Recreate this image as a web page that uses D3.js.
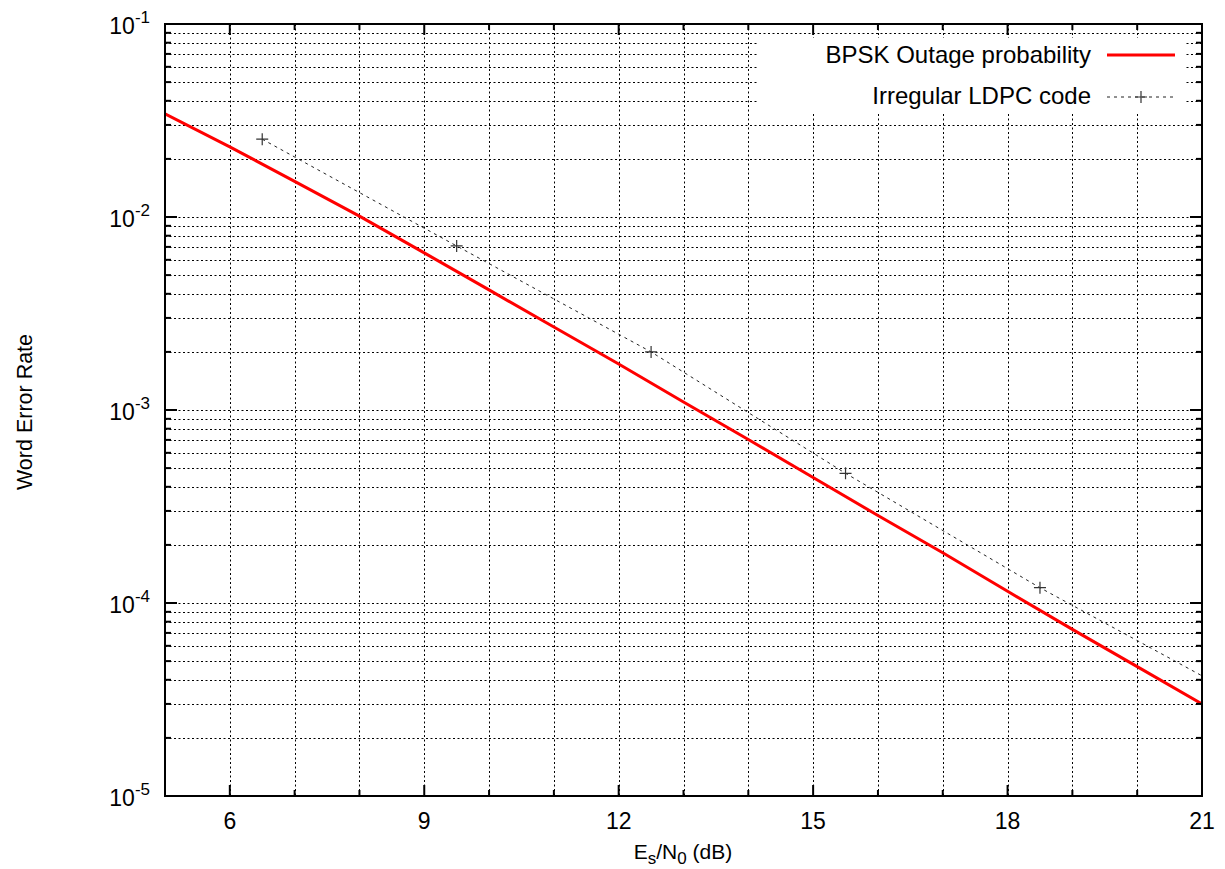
<!DOCTYPE html>
<html>
<head>
<meta charset="utf-8">
<script src="https://cdn.jsdelivr.net/npm/d3@7"></script>
<style>
  html, body { margin: 0; padding: 0; background: #fff; }
  svg { display: block; font-family: "Liberation Sans", Arial, sans-serif; }
</style>
</head>
<body>
<svg id="chart" width="1225" height="869"></svg>
<script>
// Outage probability of BPSK (Es/N0 in dB -> word error rate)
const outageSnr = [5, 6, 7, 8, 9, 10, 11, 12, 13, 14, 15, 16, 17, 18, 19, 20, 21];
const outageWer = [3.42e-2, 2.31e-2, 1.53e-2, 1.01e-2, 6.52e-3, 4.19e-3, 2.69e-3, 1.73e-3,
                   1.10e-3, 7.03e-4, 4.47e-4, 2.84e-4, 1.82e-4, 1.15e-4, 7.3e-5, 4.68e-5, 3.0e-5];

// Simulated irregular LDPC code
const ldpcSnr = [6.5, 9.5, 12.5, 15.5, 18.5, 21.5];
const ldpcWer = [2.53e-2, 7.08e-3, 2.0e-3, 4.7e-4, 1.2e-4, 3.4e-5];

// Axis ticks
const xMajorTicks = [6, 9, 12, 15, 18, 21];
const xMinorTicks = d3.range(5, 22, 1);
const yDecades = [-5, -4, -3, -2, -1];

const seriesNames = ["BPSK Outage probability", "Irregular LDPC code"];

const svg = d3.select("#chart");
const plotLeft = 165, plotTop = 24, plotRight = 1202, plotBottom = 796;

const x = d3.scaleLinear().domain([5, 21]).range([plotLeft, plotRight]);
const y = d3.scaleLog().domain([1e-5, 1e-1]).range([plotBottom, plotTop]);

// minor log positions 2..9 within each decade
const yMinor = [];
yDecades.slice(0, -1).forEach(e => {
  for (let m = 2; m <= 9; m++) yMinor.push(m * Math.pow(10, e));
});
const yMajor = yDecades.map(e => Math.pow(10, e));

// grid
const grid = svg.append("g")
  .attr("stroke", "#000").attr("stroke-width", 1).attr("stroke-dasharray", "2,2.5");
grid.selectAll("line.gx").data(xMinorTicks.filter(v => v > 5 && v < 21)).join("line")
  .attr("class", "gx")
  .attr("x1", d => Math.round(x(d)) + 0.5).attr("x2", d => Math.round(x(d)) + 0.5)
  .attr("y1", plotTop).attr("y2", plotBottom);
grid.selectAll("line.gy").data(yMinor.concat(yMajor.filter(v => v > 1e-5 && v < 1e-1))).join("line")
  .attr("class", "gy")
  .attr("y1", d => Math.round(y(d)) + 0.5).attr("y2", d => Math.round(y(d)) + 0.5)
  .attr("x1", plotLeft).attr("x2", plotRight);

// legend background hides the grid behind it
svg.append("rect").attr("x", 758).attr("y", 38).attr("width", 426).attr("height", 75)
  .attr("fill", "#fff");

// clip for curves
svg.append("clipPath").attr("id", "plotClip").append("rect")
  .attr("x", plotLeft).attr("y", plotTop).attr("width", plotRight - plotLeft).attr("height", plotBottom - plotTop);

const line = d3.line().x(d => x(d[0])).y(d => y(d[1]));

svg.append("path")
  .datum(ldpcSnr.map((s, i) => [s, ldpcWer[i]]))
  .attr("clip-path", "url(#plotClip)")
  .attr("d", line).attr("fill", "none")
  .attr("stroke", "#222").attr("stroke-width", 1).attr("stroke-dasharray", "3,4");

const plus = (g, cx, cy) => {
  g.append("path").attr("d", `M${cx - 6},${cy}H${cx + 6}M${cx},${cy - 6}V${cy + 6}`)
    .attr("stroke", "#333").attr("stroke-width", 1.2).attr("fill", "none");
};
const markers = svg.append("g").attr("clip-path", "url(#plotClip)");
ldpcSnr.forEach((s, i) => plus(markers, x(s), y(ldpcWer[i])));

svg.append("path")
  .datum(outageSnr.map((s, i) => [s, outageWer[i]]))
  .attr("clip-path", "url(#plotClip)")
  .attr("d", line).attr("fill", "none")
  .attr("stroke", "#f00").attr("stroke-width", 3).attr("stroke-linejoin", "round");

// frame
svg.append("rect").attr("x", plotLeft).attr("y", plotTop)
  .attr("width", plotRight - plotLeft).attr("height", plotBottom - plotTop)
  .attr("fill", "none").attr("stroke", "#000").attr("stroke-width", 2);

// ticks on all four sides
const ticks = svg.append("g").attr("stroke", "#000").attr("stroke-width", 2);
xMinorTicks.forEach(v => {
  const len = xMajorTicks.includes(v) ? 11 : 6;
  const px = x(v);
  ticks.append("line").attr("x1", px).attr("x2", px).attr("y1", plotBottom).attr("y2", plotBottom - len);
  ticks.append("line").attr("x1", px).attr("x2", px).attr("y1", plotTop).attr("y2", plotTop + len);
});
yMajor.forEach(v => {
  const py = y(v);
  ticks.append("line").attr("x1", plotLeft).attr("x2", plotLeft + 12).attr("y1", py).attr("y2", py);
  ticks.append("line").attr("x1", plotRight).attr("x2", plotRight - 12).attr("y1", py).attr("y2", py);
});
yMinor.forEach(v => {
  const py = y(v);
  ticks.append("line").attr("x1", plotLeft).attr("x2", plotLeft + 6).attr("y1", py).attr("y2", py);
  ticks.append("line").attr("x1", plotRight).attr("x2", plotRight - 6).attr("y1", py).attr("y2", py);
});

// x tick labels
svg.append("g").selectAll("text").data(xMajorTicks).join("text")
  .attr("x", d => x(d)).attr("y", 829).attr("text-anchor", "middle")
  .attr("font-size", 23).attr("fill", "#000").text(d => d);

// y tick labels 10^e
yDecades.forEach(e => {
  const t = svg.append("text").attr("x", 150).attr("y", y(Math.pow(10, e)) + 10)
    .attr("text-anchor", "end").attr("font-size", 23).attr("fill", "#000");
  t.append("tspan").text("10");
  t.append("tspan").attr("dy", -11).attr("font-size", 17).text(String(e));
});

// axis titles
const xt = svg.append("text").attr("x", 683).attr("y", 859).attr("text-anchor", "middle")
  .attr("font-size", 21).attr("fill", "#000");
xt.append("tspan").text("E");
xt.append("tspan").attr("dy", 5).attr("font-size", 17).text("s");
xt.append("tspan").attr("dy", -5).text("/N");
xt.append("tspan").attr("dy", 5).attr("font-size", 17).text("0");
xt.append("tspan").attr("dy", -5).text(" (dB)");

svg.append("text").attr("transform", "translate(32,412) rotate(-90)")
  .attr("text-anchor", "middle").attr("font-size", 21.5).attr("fill", "#000")
  .text("Word Error Rate");

// legend
const lg = svg.append("g");
lg.append("text").attr("x", 1091).attr("y", 63).attr("text-anchor", "end")
  .attr("font-size", 24).attr("fill", "#000").text(seriesNames[0]);
lg.append("line").attr("x1", 1107).attr("x2", 1175).attr("y1", 55).attr("y2", 55)
  .attr("stroke", "#f00").attr("stroke-width", 3);
lg.append("text").attr("x", 1091).attr("y", 104).attr("text-anchor", "end")
  .attr("font-size", 24).attr("fill", "#000").text(seriesNames[1]);
lg.append("line").attr("x1", 1107).attr("x2", 1175).attr("y1", 97).attr("y2", 97)
  .attr("stroke", "#222").attr("stroke-width", 1).attr("stroke-dasharray", "3,4");
plus(lg, 1141, 97);
</script>
</body>
</html>
